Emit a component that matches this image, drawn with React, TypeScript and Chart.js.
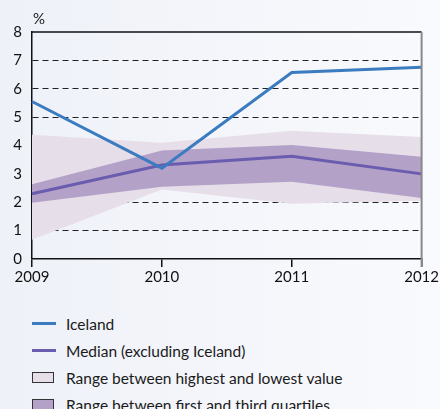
import React, { useEffect, useRef } from "react";
import { Chart, registerables } from "chart.js";

Chart.register(...registerables);

const years = ["2009", "2010", "2011", "2012"];
const iceland = [5.55, 3.2, 6.57, 6.76];
const median = [2.3, 3.31, 3.62, 3.0];
const q1 = [1.98, 2.55, 2.72, 2.15];
const q3 = [2.63, 3.82, 4.02, 3.6];
const minV = [0.68, 2.45, 1.95, 2.05];
const maxV = [4.38, 4.1, 4.52, 4.3];
const yTicks = [0, 1, 2, 3, 4, 5, 6, 7, 8];
const legendItems = [
  { label: "Iceland", kind: "line", color: "#3b7bbf" },
  { label: "Median (excluding Iceland)", kind: "line", color: "#6a5cae" },
  { label: "Range between highest and lowest value", kind: "box", color: "#e6dee9" },
  { label: "Range between first and third quartiles", kind: "box", color: "#b3a1c8" },
];

const FONT = "Lato, 'Open Sans', sans-serif";

export default function App() {
  const ref = useRef<HTMLCanvasElement | null>(null);
  useEffect(() => {
    if (!ref.current) return;
    const framePlugin = {
      id: "frame",
      afterDatasetsDraw(chart: any) {
        const { ctx, chartArea } = chart;
        ctx.save();
        ctx.strokeStyle = "#111";
        ctx.lineWidth = 1.5;
        ctx.beginPath();
        ctx.moveTo(chartArea.left, chartArea.top);
        ctx.lineTo(chartArea.right, chartArea.top);
        ctx.stroke();
        ctx.strokeStyle = "#888";
        ctx.lineWidth = 2;
        ctx.beginPath();
        ctx.moveTo(chartArea.right, chartArea.top);
        ctx.lineTo(chartArea.right, chartArea.bottom + 8);
        ctx.stroke();
        ctx.fillStyle = "#222";
        ctx.font = "15px " + FONT;
        ctx.textAlign = "left";
        ctx.textBaseline = "alphabetic";
        ctx.fillText("%", chartArea.left + 1, chartArea.top - 8);
        ctx.restore();
      },
    };
    const chart = new Chart(ref.current, {
      type: "line",
      data: {
        labels: years,
        datasets: [
          { label: "Iceland", data: iceland, borderColor: "#3b7bbf", borderWidth: 3, pointRadius: 0, fill: false, order: 0 },
          { label: "Median (excluding Iceland)", data: median, borderColor: "#6a5cae", borderWidth: 3, pointRadius: 0, fill: false, order: 1 },
          { label: "Q3", data: q3, borderWidth: 0, borderColor: "rgba(0,0,0,0)", backgroundColor: "#b3a1c8", pointRadius: 0, fill: 3, order: 2 },
          { label: "Q1", data: q1, borderWidth: 0, borderColor: "rgba(0,0,0,0)", pointRadius: 0, fill: false, order: 3 },
          { label: "Max", data: maxV, borderWidth: 0, borderColor: "rgba(0,0,0,0)", backgroundColor: "#e6dee9", pointRadius: 0, fill: 5, order: 4 },
          { label: "Min", data: minV, borderWidth: 0, borderColor: "rgba(0,0,0,0)", pointRadius: 0, fill: false, order: 5 },
        ],
      },
      options: {
        animation: false,
        responsive: false,
        layout: { padding: { top: 32, right: 18, left: 0, bottom: 0 } },
        plugins: { legend: { display: false }, tooltip: { enabled: false } },
        scales: {
          x: {
            offset: false,
            grid: { display: true, drawOnChartArea: false, drawTicks: true, tickLength: 8, color: "#111", lineWidth: 1.5 },
            border: { display: true, color: "#111", width: 1.5 },
            ticks: { color: "#111", font: { size: 15, family: FONT }, padding: 1, maxRotation: 0 },
            afterFit: (s: any) => { s.height = 41; },
          },
          y: {
            min: 0,
            max: 8,
            afterBuildTicks: (s: any) => { s.ticks = yTicks.map((v) => ({ value: v })); },
            grid: {
              drawTicks: false,
              color: "#222",
              lineWidth: (c: any) => (c.tick && (c.tick.value === 0 || c.tick.value === 8) ? 0 : 1),
            },
            border: { display: true, color: "#111", width: 1.5, dash: [6, 4] },
            ticks: { color: "#111", font: { size: 15, family: FONT }, padding: 10 },
            afterFit: (s: any) => { s.width = 32; },
          },
        },
      },
      plugins: [framePlugin],
    } as any);
    return () => chart.destroy();
  }, []);

  return (
    <div
      style={{
        position: "fixed",
        left: 0,
        top: 0,
        width: 440,
        height: 409,
        overflow: "hidden",
        background: "linear-gradient(to right, #eef1f8, #f9fafd)",
        fontFamily: FONT,
      }}
    >
      <canvas ref={ref} width={440} height={300} style={{ display: "block" }} />
      <div style={{ position: "absolute", left: 32, top: 310 }}>
        {legendItems.map((it) => (
          <div key={it.label} style={{ display: "flex", alignItems: "center", height: 27, fontSize: 15.5, color: "#1a1a1a" }}>
            {it.kind === "line" ? (
              <span style={{ display: "inline-block", width: 24, height: 3, background: it.color, marginRight: 10 }} />
            ) : (
              <span style={{ display: "inline-block", width: 20, height: 9, background: it.color, border: "1px solid #333", marginRight: 12 }} />
            )}
            <span>{it.label}</span>
          </div>
        ))}
      </div>
    </div>
  );
}
